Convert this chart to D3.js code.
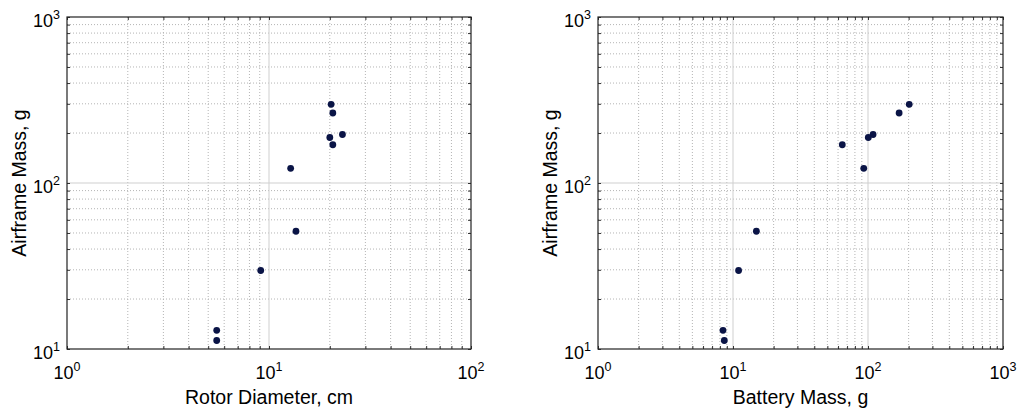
<!DOCTYPE html>
<html>
<head>
<meta charset="utf-8">
<script src="https://cdn.jsdelivr.net/npm/d3@7"></script>
<style>
html,body{margin:0;padding:0;background:#fff;}
svg{display:block;font-family:"Liberation Sans",Arial,sans-serif;}
</style>
</head>
<body>
<svg id="chart" width="1019" height="412"></svg>
<script>
// Data
const airframeMass = [298, 264, 196, 188, 170, 122.6, 51.2, 29.7, 12.96, 11.25];
const rotorDiameter = [20.3, 20.7, 23.1, 20.0, 20.7, 12.8, 13.6, 9.1, 5.51, 5.51];
const batteryMass = [202, 170, 109, 100.5, 64.5, 93, 14.9, 11.0, 8.43, 8.62];
const xDomainLeft = [1, 100];
const xDomainRight = [1, 1000];
const yDomain = [10, 1000];
const xTitleLeft = "Rotor Diameter, cm";
const xTitleRight = "Battery Mass, g";
const yTitle = "Airframe Mass, g";

const svg = d3.select("#chart");
const plotTop = 17, plotBottom = 349;

function decadeTicks(domain) {
  const lo = Math.round(Math.log10(domain[0])), hi = Math.round(Math.log10(domain[1]));
  const major = [], minor = [];
  for (let e = lo; e <= hi; e++) {
    major.push(Math.pow(10, e));
    if (e < hi) for (let k = 2; k <= 9; k++) minor.push(k * Math.pow(10, e));
  }
  return {major, minor, lo, hi};
}

function panel(left, right, xDomain, xVals, yVals, xTitle) {
  const x = d3.scaleLog().domain(xDomain).range([left, right]);
  const y = d3.scaleLog().domain(yDomain).range([plotBottom, plotTop]);
  const g = svg.append("g");
  const xt = decadeTicks(xDomain), yt = decadeTicks(yDomain);

  // minor grid
  g.selectAll(".gxm").data(xt.minor).join("line")
    .attr("x1", d => x(d)).attr("x2", d => x(d)).attr("y1", plotTop).attr("y2", plotBottom)
    .attr("stroke", "#b4b4b4").attr("stroke-width", 1).attr("stroke-dasharray", "1,2");
  g.selectAll(".gym").data(yt.minor).join("line")
    .attr("y1", d => y(d)).attr("y2", d => y(d)).attr("x1", left).attr("x2", right)
    .attr("stroke", "#b4b4b4").attr("stroke-width", 1).attr("stroke-dasharray", "1,2");
  // major grid
  g.selectAll(".gxM").data(xt.major.slice(1, -1)).join("line")
    .attr("x1", d => x(d)).attr("x2", d => x(d)).attr("y1", plotTop).attr("y2", plotBottom)
    .attr("stroke", "#cfcfcf").attr("stroke-width", 1);
  g.selectAll(".gyM").data(yt.major.slice(1, -1)).join("line")
    .attr("y1", d => y(d)).attr("y2", d => y(d)).attr("x1", left).attr("x2", right)
    .attr("stroke", "#cfcfcf").attr("stroke-width", 1);

  // axes with inner ticks
  const xtv = xt.minor.concat(xt.major), ytv = yt.minor.concat(yt.major);
  const axB = d3.axisBottom(x).tickValues(xtv).tickSize(-3).tickFormat("");
  const axT = d3.axisTop(x).tickValues(xtv).tickSize(-3).tickFormat("");
  const axL = d3.axisLeft(y).tickValues(ytv).tickSize(-3).tickFormat("");
  const axR = d3.axisRight(y).tickValues(ytv).tickSize(-3).tickFormat("");
  [[axB, `translate(0,${plotBottom})`], [axT, `translate(0,${plotTop})`], [axL, `translate(${left},0)`], [axR, `translate(${right},0)`]]
    .forEach(([ax, tr]) => {
      const a = g.append("g").attr("transform", tr).call(ax);
      a.select(".domain").remove();
      a.selectAll(".tick line").attr("stroke", "#333");
    });
  // frame
  g.append("rect").attr("x", left).attr("y", plotTop).attr("width", right - left).attr("height", plotBottom - plotTop)
    .attr("fill", "none").attr("stroke", "#222").attr("stroke-width", 1.2);

  // tick labels
  xt.major.forEach((v, i) => {
    const t = g.append("text").attr("x", x(v)).attr("y", 379).attr("text-anchor", "middle")
      .attr("font-size", 18).attr("fill", "#000");
    t.append("tspan").text("10");
    t.append("tspan").attr("dy", -8).attr("font-size", 12.5).text(String(xt.lo + i));
  });
  yt.major.forEach((v, i) => {
    const t = g.append("text").attr("x", left - 7).attr("y", y(v) + 10).attr("text-anchor", "end")
      .attr("font-size", 18).attr("fill", "#000");
    t.append("tspan").text("10");
    t.append("tspan").attr("dy", -8).attr("font-size", 12.5).text(String(yt.lo + i));
  });

  // titles
  g.append("text").attr("x", (left + right) / 2).attr("y", 404).attr("text-anchor", "middle")
    .attr("font-size", 19.5).attr("fill", "#000").text(xTitle);
  g.append("text").attr("transform", `translate(${left - 41},${(plotTop + plotBottom) / 2}) rotate(-90)`)
    .attr("text-anchor", "middle").attr("font-size", 19.5).attr("fill", "#000").text(yTitle);

  // points
  g.selectAll(".pt").data(xVals.map((v, i) => [v, yVals[i]])).join("circle")
    .attr("cx", d => x(d[0])).attr("cy", d => y(d[1])).attr("r", 3.4)
    .attr("fill", "#0a1446");
}

panel(67, 471, xDomainLeft, rotorDiameter, airframeMass, xTitleLeft);
panel(598, 1003, xDomainRight, batteryMass, airframeMass, xTitleRight);
</script>
</body>
</html>
